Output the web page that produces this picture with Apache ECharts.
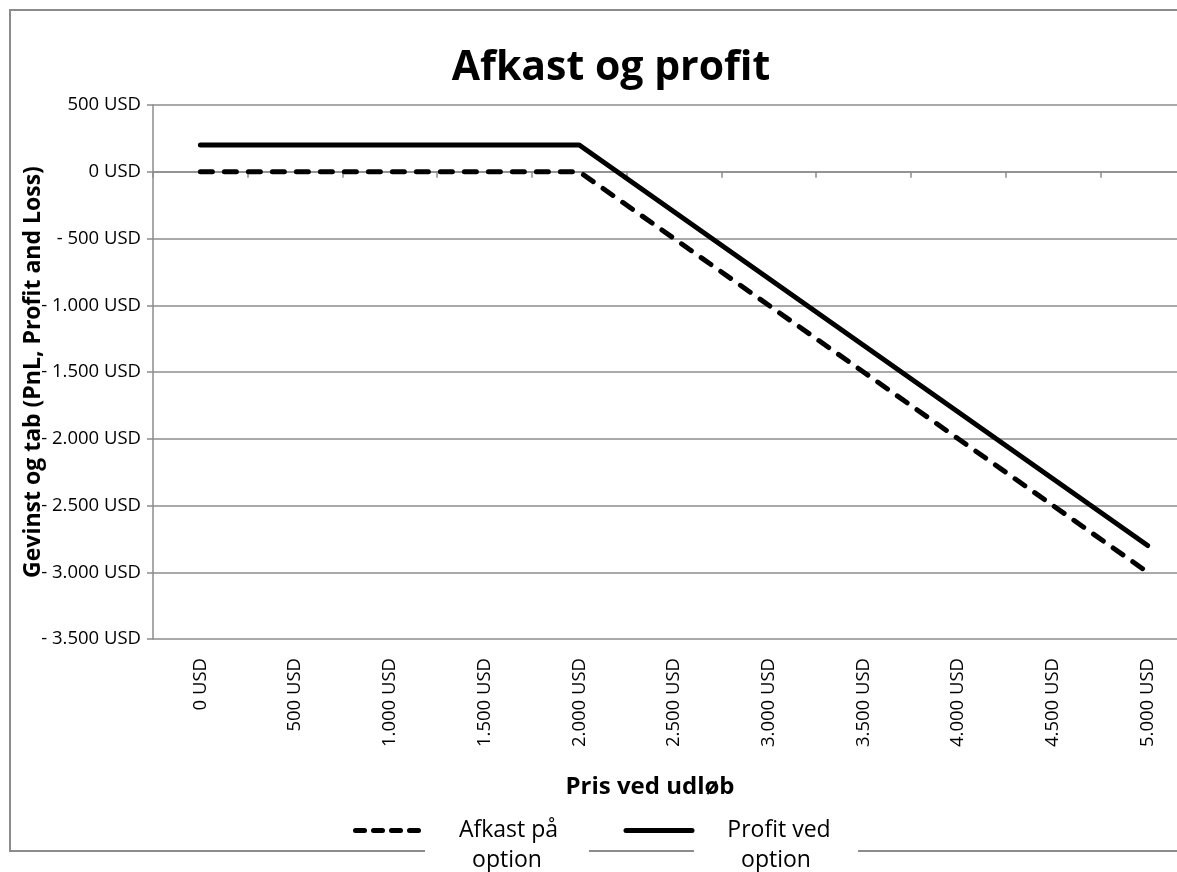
<!DOCTYPE html>
<html>
<head>
<meta charset="utf-8">
<script src="https://cdn.jsdelivr.net/npm/echarts@6/dist/echarts.min.js"></script>
<style>
html,body{margin:0;padding:0;background:#fff;}
#chart{width:1177px;height:872px;}
</style>
</head>
<body>
<div id="chart"></div>
<script>
var prices = [0, 500, 1000, 1500, 2000, 2500, 3000, 3500, 4000, 4500, 5000];
var afkast = [0, 0, 0, 0, 0, -500, -1000, -1500, -2000, -2500, -3000];
var profit = [200, 200, 200, 200, 200, -300, -800, -1300, -1800, -2300, -2800];
var seriesNames = ['Afkast på option', 'Profit ved option'];
var legendLine1 = ['Afkast på', 'Profit ved'];
var legendLine2 = ['option', 'option'];
var titleText = 'Afkast og profit';
var xName = 'Pris ved udløb';
var yName = 'Gevinst og tab (PnL, Profit and Loss)';

function fmtNum(v) {
  var s = String(Math.abs(v));
  return s.replace(/\B(?=(\d{3})+(?!\d))/g, '.');
}
function usd(v) {
  if (v < 0) return '- ' + fmtNum(v) + ' USD';
  return fmtNum(v) + ' USD';
}
var categories = prices.map(usd);
var FONT = 'Open Sans';
var grey = '#8c8c8c';
var dashPattern = [12, 12];

function legendItems(hidden) {
  return seriesNames.map(function (n, i) {
    return {
      name: n,
      lineStyle: hidden ? { opacity: 0 } : { color: '#000', width: 5, type: i === 0 ? [9, 9] : 'solid', cap: 'round', opacity: 1 },
      itemStyle: { opacity: 0 }
    };
  });
}

var chart = echarts.init(document.getElementById('chart'));
chart.setOption({
  backgroundColor: '#fff',
  animation: false,
  textStyle: { fontFamily: FONT },
  title: {
    text: titleText,
    left: 611, top: 48, padding: 0, textAlign: 'center',
    textStyle: { fontFamily: FONT, fontSize: 41, fontWeight: 'bold', color: '#000' }
  },
  graphic: [{
    type: 'polyline', z: 0,
    shape: { points: [[1400, 10], [10, 10], [10, 851], [1400, 851]] },
    style: { fill: null, stroke: grey, lineWidth: 2 }
  }],
  legend: [{
    data: legendItems(false),
    left: 353, top: 819, padding: 0,
    itemWidth: 66, itemHeight: 14, itemGap: 33,
    formatter: function (n) { return '{t|' + legendLine1[seriesNames.indexOf(n)] + '}'; },
    textStyle: {
      fontFamily: FONT, fontSize: 23, color: '#000',
      rich: { t: { width: 164, align: 'center', fontSize: 23, lineHeight: 30, fontFamily: FONT, color: '#000' } }
    }
  }, {
    data: legendItems(true),
    left: 353, top: 849, padding: 0,
    itemWidth: 66, itemHeight: 14, itemGap: 33,
    formatter: function (n) { return '{t|' + legendLine2[seriesNames.indexOf(n)] + '}'; },
    textStyle: {
      fontFamily: FONT, fontSize: 23, color: '#000',
      rich: { t: { width: 164, align: 'center', fontSize: 23, lineHeight: 30, fontFamily: FONT, color: '#000', backgroundColor: '#fff' } }
    }
  }],
  grid: { left: 153, top: 105, bottom: 233, width: 1042, containLabel: false, outerBoundsMode: 'none' },
  xAxis: [{
    type: 'category', data: categories, boundaryGap: true,
    axisLine: { onZero: true, lineStyle: { color: grey, width: 1.5 } },
    axisTick: { show: true, length: 6, lineStyle: { color: grey, width: 1.5 } },
    axisLabel: { show: false },
    splitLine: { show: false }
  }, {
    type: 'category', data: categories, boundaryGap: true, position: 'bottom',
    axisLine: { show: false, onZero: false },
    axisTick: { show: false },
    axisLabel: { rotate: 90, margin: 19, fontSize: 18.5, color: '#000', fontFamily: FONT, interval: 0 },
    name: xName, nameLocation: 'middle', nameGap: 136, nameMoveOverlap: false,
    nameTextStyle: { fontFamily: FONT, fontSize: 24, fontWeight: 'bold', color: '#000', padding: [0, 48, 0, 0] }
  }],
  yAxis: {
    type: 'value', min: -3500, max: 500, interval: 500,
    axisLine: { show: true, lineStyle: { color: grey, width: 1.5 } },
    axisTick: { show: true, length: 6, lineStyle: { color: grey, width: 1.5 } },
    splitLine: { show: true, lineStyle: { color: grey, width: 1.5 } },
    axisLabel: { formatter: usd, fontSize: 18.5, color: '#000', margin: 12, fontFamily: FONT },
    name: yName, nameLocation: 'middle', nameGap: 108, nameRotate: 90, nameMoveOverlap: false,
    nameTextStyle: { fontFamily: FONT, fontSize: 23, fontWeight: 'bold', color: '#000' }
  },
  series: [{
    name: seriesNames[0], type: 'line', xAxisIndex: 0, data: afkast,
    symbol: 'none', z: 3,
    lineStyle: { color: '#000', width: 5, type: dashPattern, cap: 'round' },
    itemStyle: { color: '#000' }
  }, {
    name: seriesNames[1], type: 'line', xAxisIndex: 0, data: profit,
    symbol: 'none', z: 3,
    lineStyle: { color: '#000', width: 5, type: 'solid', cap: 'round' },
    itemStyle: { color: '#000' }
  }]
});
</script>
</body>
</html>
